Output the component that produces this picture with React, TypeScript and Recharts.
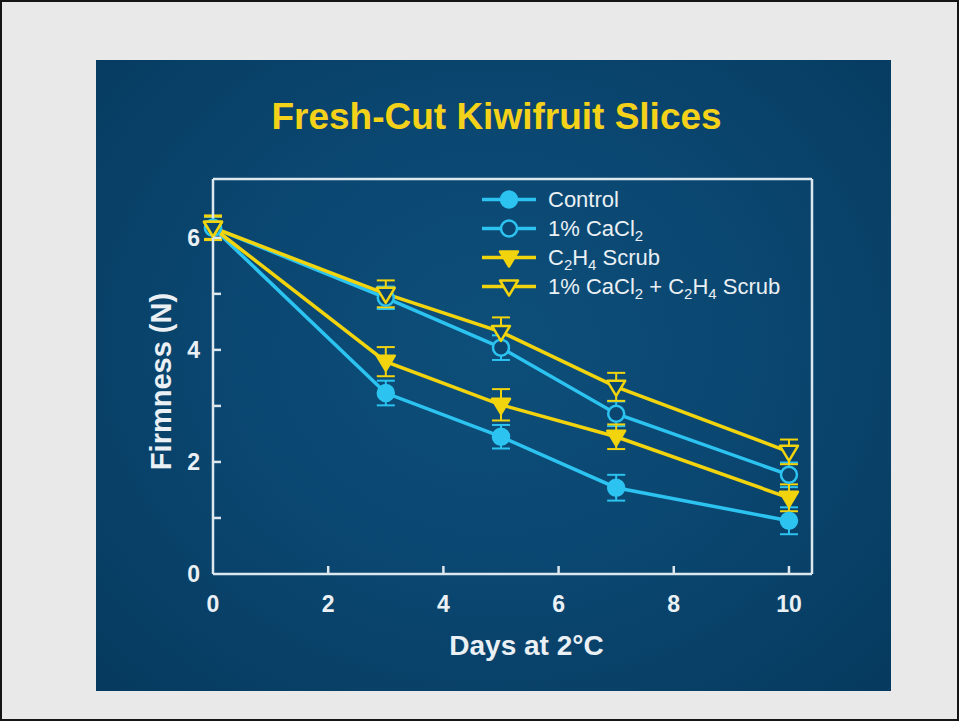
import React from "react";
import { LineChart, Line, XAxis, YAxis, ErrorBar, Legend, Label } from "recharts";

// days of storage and firmness (N) per treatment
const days = [0, 3, 5, 7, 10];
const control = [6.18, 3.23, 2.45, 1.54, 0.95];
const controlErr = [0.2, 0.22, 0.21, 0.23, 0.24];
const cacl2 = [6.18, 4.93, 4.04, 2.86, 1.77];
const cacl2Err = [0.2, 0.2, 0.22, 0.22, 0.22];
const c2h4 = [6.18, 3.79, 3.02, 2.45, 1.36];
const c2h4Err = [0.2, 0.26, 0.28, 0.22, 0.24];
const combo = [6.18, 5.0, 4.32, 3.34, 2.18];
const comboErr = [0.22, 0.24, 0.26, 0.25, 0.22];

const xTicks = [0, 2, 4, 6, 8, 10];
const yTicks = [0, 1, 2, 3, 4, 5, 6];
const topTicks = [2, 4, 6, 8, 10];
const rightTicks = [1, 2, 3, 4, 5, 6];

const data = days.map((d, i) => ({
  day: d,
  control: control[i],
  controlErr: controlErr[i],
  cacl2: cacl2[i],
  cacl2Err: cacl2Err[i],
  c2h4: c2h4[i],
  c2h4Err: c2h4Err[i],
  combo: combo[i],
  comboErr: comboErr[i],
}));

const CYAN = "#2cc3f0";
const YELLOW = "#f2d40e";
const AXIS = "#dde7ee";
const TEXT = "#eaf0f4";
const BG_FILL = "#0a4670";
const FONT = "'Liberation Sans', Arial, sans-serif";
const X_DOMAIN: [number, number] = [0, 10.4];
const Y_DOMAIN: [number, number] = [0, 7.05];

const sub = (t: string) => (
  <sub style={{ fontSize: "0.68em", verticalAlign: "-0.35em", lineHeight: 0 }}>{t}</sub>
);

const series = [
  { key: "control", err: "controlErr", color: CYAN, shape: "circle", filled: true, label: <>Control</> },
  { key: "cacl2", err: "cacl2Err", color: CYAN, shape: "circle", filled: false, label: <>1% CaCl{sub("2")}</> },
  { key: "c2h4", err: "c2h4Err", color: YELLOW, shape: "tri", filled: true, label: <>C{sub("2")}H{sub("4")} Scrub</> },
  {
    key: "combo",
    err: "comboErr",
    color: YELLOW,
    shape: "tri",
    filled: false,
    label: <>1% CaCl{sub("2")} + C{sub("2")}H{sub("4")} Scrub</>,
  },
];

function marker(shape: string, filled: boolean, cx: number, cy: number, color: string, key?: string) {
  const fill = filled ? color : BG_FILL;
  if (shape === "circle") {
    return <circle key={key} cx={cx} cy={cy} r={8} fill={fill} stroke={color} strokeWidth={2.5} />;
  }
  return (
    <path
      key={key}
      d={`M${cx - 9},${cy - 6}L${cx + 9},${cy - 6}L${cx},${cy + 9}Z`}
      fill={fill}
      stroke={color}
      strokeWidth={2.5}
      strokeLinejoin="round"
    />
  );
}

const BottomTick = (props: any) => {
  const { x, y, payload } = props;
  return (
    <g>
      {payload.value !== 0 && <line x1={x} x2={x} y1={y} y2={y - 8} stroke={AXIS} strokeWidth={2.5} />}
      <text x={x} y={y + 38} textAnchor="middle" fill={TEXT} fontSize={23} fontWeight="bold" fontFamily={FONT}>
        {payload.value}
      </text>
    </g>
  );
};

const LeftTick = (props: any) => {
  const { x, y, payload } = props;
  return (
    <g>
      {payload.value !== 0 && <line x1={x} x2={x + 8} y1={y} y2={y} stroke={AXIS} strokeWidth={2.5} />}
      {payload.value % 2 === 0 && (
        <text x={x - 13} y={y + 8} textAnchor="end" fill={TEXT} fontSize={23} fontWeight="bold" fontFamily={FONT}>
          {payload.value}
        </text>
      )}
    </g>
  );
};

const LegendBox = () => (
  <div style={{ fontFamily: FONT, fontSize: 22, color: TEXT }}>
    {series.map((s) => (
      <div key={s.key} style={{ display: "flex", alignItems: "center", height: 29 }}>
        <svg width={54} height={29} style={{ display: "block" }}>
          <line x1={0} x2={54} y1={14.5} y2={14.5} stroke={s.color} strokeWidth={3.5} />
          {marker(s.shape, s.filled, 27, 14.5, s.color)}
        </svg>
        <span style={{ marginLeft: 12, lineHeight: "29px", whiteSpace: "nowrap" }}>{s.label}</span>
      </div>
    ))}
  </div>
);

export default function App() {
  return (
    <div
      style={{
        position: "absolute",
        left: 0,
        top: 0,
        width: 959,
        height: 721,
        boxSizing: "border-box",
        border: "2px solid #151515",
        background: "#e9e9e9",
      }}
    >
      <div
        style={{
          position: "absolute",
          left: 94,
          top: 58,
          width: 795,
          height: 631,
          background: "radial-gradient(ellipse at 50% 45%, #0d4f7a 0%, #0a4670 50%, #063a5e 100%)",
        }}
      >
        <div
          style={{
            position: "absolute",
            left: 0,
            width: 795,
            top: 35,
            textAlign: "center",
            paddingLeft: 6,
            boxSizing: "border-box",
            fontFamily: FONT,
            fontWeight: "bold",
            fontSize: 37,
            color: "#f4d219",
            lineHeight: "44px",
          }}
        >
          Fresh-Cut Kiwifruit Slices
        </div>
        <LineChart
          width={795}
          height={631}
          data={data}
          margin={{ top: 119, right: 79, left: 60, bottom: 77 }}
          style={{ position: "absolute", left: 0, top: 0 }}
        >
          <XAxis
            dataKey="day"
            type="number"
            domain={X_DOMAIN}
            ticks={xTicks}
            height={40}
            tickLine={false}
            tickSize={0}
            tickMargin={0}
            tick={<BottomTick />}
            axisLine={{ stroke: AXIS, strokeWidth: 2.5 }}
            label={
              <Label
                content={(p: any) => {
                  const vb = p.viewBox;
                  return (
                    <text
                      x={vb.x + vb.width / 2 + 14}
                      y={vb.y + 81}
                      textAnchor="middle"
                      fill={TEXT}
                      fontSize={28}
                      fontWeight="bold"
                      fontFamily={FONT}
                    >
                      Days at 2°C
                    </text>
                  );
                }}
              />
            }
          />
          <XAxis
            xAxisId="top"
            orientation="top"
            type="number"
            domain={X_DOMAIN}
            ticks={topTicks}
            mirror
            tick={false}
            tickSize={8}
            tickLine={{ stroke: AXIS, strokeWidth: 2.5 }}
            axisLine={{ stroke: AXIS, strokeWidth: 2.5 }}
          />
          <YAxis
            type="number"
            domain={Y_DOMAIN}
            ticks={yTicks}
            width={57}
            tickLine={false}
            tickSize={0}
            tickMargin={0}
            tick={<LeftTick />}
            axisLine={{ stroke: AXIS, strokeWidth: 2.5 }}
            label={
              <Label
                content={(p: any) => {
                  const vb = p.viewBox;
                  const cx = vb.x + 5;
                  const cy = vb.y + vb.height / 2 + 5;
                  return (
                    <text
                      x={cx}
                      y={cy}
                      transform={`rotate(-90 ${cx} ${cy})`}
                      textAnchor="middle"
                      dominantBaseline="central"
                      fill={TEXT}
                      fontSize={29}
                      fontWeight="bold"
                      fontFamily={FONT}
                    >
                      Firmness (N)
                    </text>
                  );
                }}
              />
            }
          />
          <YAxis
            yAxisId="right"
            orientation="right"
            type="number"
            domain={Y_DOMAIN}
            ticks={rightTicks}
            mirror
            tick={false}
            tickSize={8}
            tickLine={{ stroke: AXIS, strokeWidth: 2.5 }}
            axisLine={{ stroke: AXIS, strokeWidth: 2.5 }}
          />
          <Legend
            layout="vertical"
            align="center"
            verticalAlign="middle"
            wrapperStyle={{ left: 386, top: 125, width: "auto" }}
            content={<LegendBox />}
          />
          {series.map((s) => (
            <Line
              key={s.key}
              dataKey={s.key}
              type="linear"
              stroke={s.color}
              strokeWidth={3.5}
              isAnimationActive={false}
              dot={(p: any) => marker(s.shape, s.filled, p.cx, p.cy, s.color, `${s.key}-${p.index}`)}
              activeDot={false}
            >
              <ErrorBar dataKey={s.err} width={9} strokeWidth={2} stroke={s.color} direction="y" />
            </Line>
          ))}
        </LineChart>
      </div>
    </div>
  );
}
